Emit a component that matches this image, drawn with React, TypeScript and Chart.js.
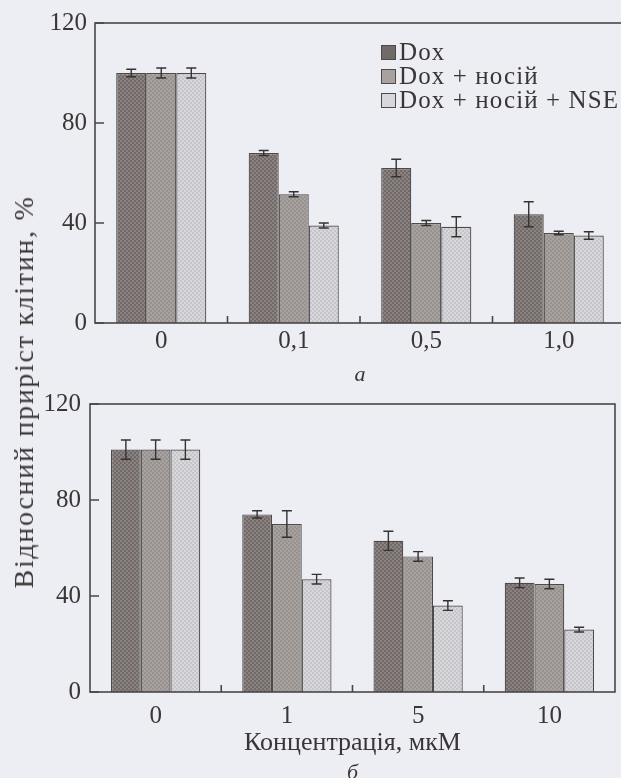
import React, { useEffect, useRef } from "react";
import { Chart, registerables } from "chart.js";

Chart.register(...registerables);

// ---------- data ----------
const seriesLabels = ["Dox", "Dox + носій", "Dox + носій + NSE"];

const topCategories = ["0", "0,1", "0,5", "1,0"];
const topDox = [100, 68, 62, 43.5];
const topDoxErr = [1.5, 1, 3.5, 5];
const topCarrier = [100, 51.5, 40, 36];
const topCarrierErr = [2, 1, 1, 0.7];
const topNse = [100, 39, 38.5, 35];
const topNseErr = [2, 1, 4, 1.5];

const bottomCategories = ["0", "1", "5", "10"];
const bottomDox = [101, 74, 63, 45.5];
const bottomDoxErr = [4, 1.5, 4, 2];
const bottomCarrier = [101, 70, 56.5, 45];
const bottomCarrierErr = [4, 5.5, 2, 2];
const bottomNse = [101, 47, 36, 26];
const bottomNseErr = [4, 2, 2, 1];

const yMin = 0;
const yMax = 120;
const yStep = 40;

const xTitle = "Концентрація, мкМ";
const yTitle = "Відносний приріст клітин, %";
const captionA = "а";
const captionB = "б";

// ---------- styles ----------
const FONT = "'Liberation Serif', 'DejaVu Serif', serif";
const TEXT = "#3a3636";
const BG = "#eceef3";
const FRAME = "#4a4646";

function makePattern(c1: string, c2: string): CanvasPattern | string {
  const p = document.createElement("canvas");
  p.width = 4;
  p.height = 4;
  const g = p.getContext("2d");
  if (!g) return c1;
  g.fillStyle = c1;
  g.fillRect(0, 0, 4, 4);
  g.fillStyle = c2;
  g.fillRect(0, 0, 2, 2);
  g.fillRect(2, 2, 2, 2);
  return g.createPattern(p, "repeat") || c1;
}

const seriesColors: [string, string][] = [
  ["#726a69", "#8b8381"],
  ["#a8a1a0", "#96938f"],
  ["#d8d8dc", "#c6c6ca"],
];

const errorFramePlugin = {
  id: "errorFrame",
  afterDatasetsDraw(chart: any) {
    const { ctx, chartArea: a, scales } = chart;
    const y = scales.y;
    const x = scales.x;
    ctx.save();
    // error bars
    ctx.strokeStyle = "#363232";
    ctx.lineWidth = 1.4;
    chart.data.datasets.forEach((ds: any, i: number) => {
      const meta = chart.getDatasetMeta(i);
      meta.data.forEach((el: any, j: number) => {
        const v = ds.data[j];
        const e = ds.errors[j];
        const yt = y.getPixelForValue(v + e);
        const yb = y.getPixelForValue(v - e);
        const cx = el.x;
        ctx.beginPath();
        ctx.moveTo(cx, yt);
        ctx.lineTo(cx, yb);
        ctx.moveTo(cx - 5, yt);
        ctx.lineTo(cx + 5, yt);
        ctx.moveTo(cx - 5, yb);
        ctx.lineTo(cx + 5, yb);
        ctx.stroke();
      });
    });
    // frame
    ctx.strokeStyle = FRAME;
    ctx.lineWidth = 1.6;
    ctx.strokeRect(a.left, a.top, a.right - a.left, a.bottom - a.top);
    // inward ticks
    ctx.beginPath();
    y.ticks.forEach((t: any) => {
      const py = y.getPixelForValue(t.value);
      ctx.moveTo(a.left, py);
      ctx.lineTo(a.left + 9, py);
    });
    for (let k = 1; k < x.ticks.length; k++) {
      const px = (x.getPixelForTick(k - 1) + x.getPixelForTick(k)) / 2;
      ctx.moveTo(px, a.bottom);
      ctx.lineTo(px, a.bottom - 7);
    }
    ctx.stroke();
    ctx.restore();
  },
};

type PanelProps = {
  categories: string[];
  values: number[][];
  errors: number[][];
  caption: string;
  showXTitle: boolean;
  top: number;
  height: number;
  padTop: number;
  padRight: number;
  yWidth: number;
  chartBottom: number;
  tickPadX: number;
  tickPadY: number;
};

function Panel(props: PanelProps) {
  const ref = useRef<HTMLCanvasElement | null>(null);
  useEffect(() => {
    if (!ref.current) return;
    const capFont = 22;
    const capBox = capFont * 1.2 + 4;
    const xHeight = props.height - capBox - props.chartBottom;
    const chart = new Chart(ref.current, {
      type: "bar",
      data: {
        labels: props.categories,
        datasets: props.values.map((vals, i) => ({
          label: seriesLabels[i],
          data: vals,
          errors: props.errors[i],
          backgroundColor: makePattern(seriesColors[i][0], seriesColors[i][1]),
          borderColor: "#4e4a4a",
          borderWidth: 1.2,
          categoryPercentage: 0.68,
          barPercentage: 1,
        })) as any,
      },
      options: {
        responsive: false,
        animation: false,
        devicePixelRatio: 1,
        layout: {
          padding: { top: props.padTop, right: props.padRight, left: 0, bottom: 0 },
        },
        plugins: {
          legend: { display: false },
          tooltip: { enabled: false },
          title: { display: false },
          subtitle: {
            display: true,
            position: "bottom",
            fullSize: false,
            text: props.caption,
            color: TEXT,
            font: { family: FONT, size: capFont, style: "italic" },
            padding: { top: 0, bottom: 4 },
          },
        },
        scales: {
          x: {
            grid: { display: false, drawTicks: false },
            border: { display: false },
            ticks: {
              color: TEXT,
              font: { family: FONT, size: 25 },
              padding: props.tickPadX,
              maxRotation: 0,
            },
            title: {
              display: props.showXTitle,
              text: xTitle,
              color: TEXT,
              font: { family: FONT, size: 26 },
              padding: { top: 0, bottom: 1 },
            },
            afterFit: (s: any) => {
              s.height = xHeight;
            },
          },
          y: {
            min: yMin,
            max: yMax,
            grid: { display: false, drawTicks: false },
            border: { display: false },
            ticks: {
              stepSize: yStep,
              color: TEXT,
              font: { family: FONT, size: 25 },
              padding: props.tickPadY,
            },
            afterFit: (s: any) => {
              s.width = props.yWidth;
            },
          },
        },
      } as any,
      plugins: [errorFramePlugin],
    });
    return () => chart.destroy();
  }, []);
  return (
    <canvas
      ref={ref}
      width={640}
      height={props.height}
      style={{ position: "absolute", left: 0, top: props.top, width: 640, height: props.height }}
    />
  );
}

export default function App() {
  return (
    <div
      style={{
        position: "absolute",
        left: 0,
        top: 0,
        width: 621,
        height: 778,
        overflow: "hidden",
        background: BG,
      }}
    >
      <Panel
        categories={topCategories}
        values={[topDox, topCarrier, topNse]}
        errors={[topDoxErr, topCarrierErr, topNseErr]}
        caption={captionA}
        showXTitle={false}
        top={0}
        height={392}
        padTop={22}
        padRight={15}
        yWidth={95}
        chartBottom={323}
        tickPadX={3}
        tickPadY={8}
      />
      <Panel
        categories={bottomCategories}
        values={[bottomDox, bottomCarrier, bottomNse]}
        errors={[bottomDoxErr, bottomCarrierErr, bottomNseErr]}
        caption={captionB}
        showXTitle={true}
        top={380}
        height={410}
        padTop={15}
        padRight={25}
        yWidth={90}
        chartBottom={312}
        tickPadX={9}
        tickPadY={9}
      />
      <div
        style={{
          position: "absolute",
          left: 381,
          top: 40,
          fontFamily: FONT,
          fontSize: 25,
          letterSpacing: 1.1,
          color: TEXT,
        }}
      >
        {seriesLabels.map((lab, i) => (
          <div key={lab} style={{ display: "flex", alignItems: "center", height: 24, whiteSpace: "nowrap" }}>
            <span
              style={{
                display: "inline-block",
                width: 13,
                height: 13,
                marginRight: 3,
                background: seriesColors[i][0],
                border: "1px solid #4e4a4a",
              }}
            />
            <span style={{ lineHeight: "24px" }}>{lab}</span>
          </div>
        ))}
      </div>
      <div
        style={{
          position: "absolute",
          left: 24,
          top: 392,
          transform: "translate(-50%, -50%) rotate(-90deg)",
          whiteSpace: "nowrap",
          fontFamily: FONT,
          fontSize: 28,
          letterSpacing: 1.7,
          color: TEXT,
        }}
      >
        {yTitle}
      </div>
    </div>
  );
}
